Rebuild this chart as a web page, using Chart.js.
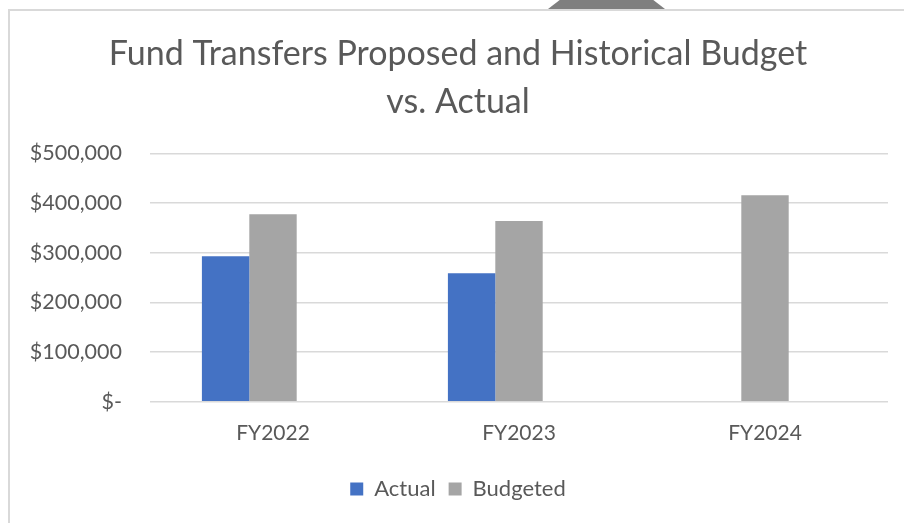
<!DOCTYPE html>
<html>
<head>
<meta charset="utf-8">
<script src="https://cdn.jsdelivr.net/npm/chart.js@4.4.1/dist/chart.umd.min.js"></script>
<style>
  html, body { margin: 0; padding: 0; background: #fff; }
  #wrap { position: relative; width: 904px; height: 523px; overflow: hidden; }
  #chart { position: absolute; left: 0; top: 0; }
  #frame {
    position: absolute; left: 8px; top: 9px; right: -4px; bottom: -4px;
    border-left: 2px solid #d9d9d9; border-top: 2px solid #d9d9d9;
    pointer-events: none;
  }
  #tab {
    position: absolute; left: 548px; top: 0; width: 117px; height: 9px;
    background: #7f7f7f;
    clip-path: polygon(10% 0, 90% 0, 100% 100%, 0 100%);
  }
</style>
</head>
<body>
<div id="wrap">
  <canvas id="chart" width="904" height="523"></canvas>
  <div id="frame"></div>
  <div id="tab"></div>
</div>
<script>
// Fund transfers: budget vs actual
const categories = ["FY2022", "FY2023", "FY2024"];
const actual = [293000, 259000, null];
const budgeted = [378000, 364000, 416000];
const proposed = [null, null, null]; // empty third series in the source, keeps the bar spacing
const yTicks = [0, 100000, 200000, 300000, 400000, 500000];

const textColor = "#595959";
const fontFamily = "Lato, 'Open Sans', sans-serif";

function money(v) {
  if (v === 0) return "$-";
  return "$" + v.toLocaleString("en-US");
}

new Chart(document.getElementById("chart"), {
  type: "bar",
  data: {
    labels: categories,
    datasets: [
      { label: "Actual", data: actual, backgroundColor: "#4472c4" },
      { label: "Budgeted", data: budgeted, backgroundColor: "#a5a5a5" },
      { label: "Proposed", data: proposed, backgroundColor: "#ffc000" }
    ]
  },
  options: {
    responsive: false,
    animation: false,
    layout: { padding: { left: 28, right: 16, top: 30, bottom: 13 } },
    datasets: {
      bar: { categoryPercentage: 0.578, barPercentage: 1.0 }
    },
    plugins: {
      tooltip: { enabled: false },
      title: {
        display: true,
        text: ["Fund Transfers Proposed and Historical Budget", "vs. Actual"],
        color: textColor,
        font: { family: fontFamily, size: 34, weight: "normal", lineHeight: 1.42 },
        padding: { top: 0, bottom: 27 }
      },
      legend: {
        position: "bottom",
        labels: {
          color: textColor,
          font: { family: fontFamily, size: 22 },
          boxWidth: 13,
          boxHeight: 13,
          padding: 13,
          filter: item => item.text !== "Proposed"
        }
      }
    },
    scales: {
      x: {
        grid: { display: false, drawTicks: false },
        border: { display: false },
        ticks: { color: textColor, font: { family: fontFamily, size: 21 }, padding: 19 }
      },
      y: {
        min: 0,
        max: 500000,
        afterBuildTicks: scale => { scale.ticks = yTicks.map(v => ({ value: v })); },
        afterFit: scale => { scale.width = 122; },
        grid: { color: "#d9d9d9", lineWidth: 1.5, drawTicks: false },
        border: { display: false },
        ticks: {
          color: textColor,
          font: { family: fontFamily, size: 21.5 },
          padding: 28,
          callback: v => money(v)
        }
      }
    }
  }
});
</script>
</body>
</html>
